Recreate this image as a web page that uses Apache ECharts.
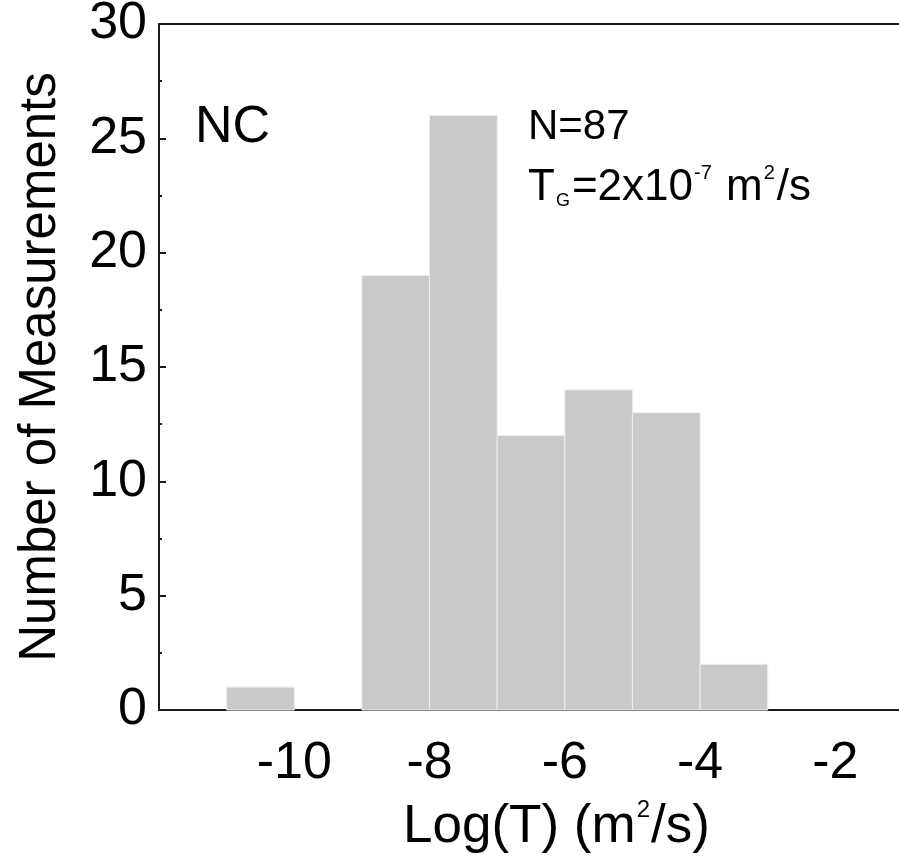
<!DOCTYPE html>
<html>
<head>
<meta charset="utf-8">
<script src="https://cdn.jsdelivr.net/npm/echarts@6/dist/echarts.min.js"></script>
<style>html,body{margin:0;padding:0;background:#fff}#c{width:899px;height:865px}</style>
</head>
<body>
<div id="c"></div>
<script>
// Histogram bins of log10(T) (m^2/s), width 1
const binStart = [-11, -9, -8, -7, -6, -5, -4];
const binEnd   = [-10, -8, -7, -6, -5, -4, -3];
const counts   = [1, 19, 26, 12, 14, 13, 2];
const yTicks = [0, 5, 10, 15, 20, 25, 30];
const xTickLabels = [-10, -8, -6, -4, -2];

const FONT = 'Liberation Sans, Arial, sans-serif';
const chart = echarts.init(document.getElementById('c'), null, {renderer: 'canvas'});

const data = binStart.map((s, i) => [s, binEnd[i], counts[i]]);
const lineStyle = {color: '#1a1a1a', width: 2};

chart.setOption({
  animation: false,
  backgroundColor: '#fff',
  grid: {left: 159, top: 24, width: 744, height: 686, outerBoundsMode: 'none', containLabel: false},
  xAxis: [{
    type: 'value', min: -12, max: -1, interval: 2,
    axisLine: {show: true, onZero: false, lineStyle: lineStyle},
    axisTick: {show: false},
    splitLine: {show: false},
    axisLabel: {
      color: '#000', fontFamily: FONT, fontSize: 52, margin: 28,
      showMinLabel: false, showMaxLabel: false,
      formatter: v => xTickLabels.includes(v) ? String(v) : ''
    }
  }, {
    type: 'value', position: 'top', min: -12, max: -1,
    axisLine: {show: true, onZero: false, lineStyle: lineStyle},
    axisTick: {show: false}, axisLabel: {show: false}, splitLine: {show: false}
  }],
  yAxis: {
    type: 'value', min: yTicks[0], max: yTicks[yTicks.length - 1], interval: 5,
    name: 'Number of Measurements', nameLocation: 'middle', nameGap: 93,
    nameTextStyle: {color: '#000', fontFamily: FONT, fontSize: 51},
    axisLine: {show: true, lineStyle: lineStyle},
    axisTick: {show: true, inside: true, length: 7, lineStyle: lineStyle},
    minorTick: {show: true, splitNumber: 2, length: 3, lineStyle: lineStyle},
    splitLine: {show: false},
    axisLabel: {color: '#000', fontFamily: FONT, fontSize: 52, margin: 12}
  },
  series: [{
    type: 'custom',
    data: data,
    encode: {x: [0, 1], y: 2},
    renderItem: function (params, api) {
      const p0 = api.coord([api.value(0), api.value(2)]);
      const p1 = api.coord([api.value(1), 0]);
      return {
        type: 'rect',
        shape: {x: p0[0], y: p0[1], width: p1[0] - p0[0], height: p1[1] - p0[1]},
        style: {fill: '#c9c9c9', stroke: '#ececec', lineWidth: 1}
      };
    }
  }],
  graphic: [
    {type: 'text', left: 195, top: 102, style: {text: 'NC', fill: '#000', font: '52px ' + FONT}},
    {type: 'text', left: 528, top: 106, style: {text: 'N=87', fill: '#000', font: '42px ' + FONT}},
    {type: 'text', left: 528, top: 158, style: {
      text: '{a|T}{sub|G}{a|=2x10}{sup|-7}{a| m}{sup|2}{a|/s}',
      rich: {
        a: {fontFamily: FONT, fontSize: 44, color: '#000', lineHeight: 52, verticalAlign: 'bottom'},
        sup: {fontFamily: FONT, fontSize: 20, color: '#000', lineHeight: 52, verticalAlign: 'top', padding: [5, 2, 0, 1]},
        sub: {fontFamily: FONT, fontSize: 18, color: '#000', lineHeight: 52, verticalAlign: 'bottom', padding: [0, 2, 0, 1]}
      }
    }},
    {type: 'text', left: 403, top: 792, style: {
      text: '{a|Log(T) (m}{sup|2}{a|/s)}',
      rich: {
        a: {fontFamily: FONT, fontSize: 53, color: '#000', lineHeight: 62, verticalAlign: 'bottom'},
        sup: {fontFamily: FONT, fontSize: 24, color: '#000', lineHeight: 62, verticalAlign: 'top', padding: [6, 1, 0, 1]}
      }
    }}
  ]
});
</script>
</body>
</html>
